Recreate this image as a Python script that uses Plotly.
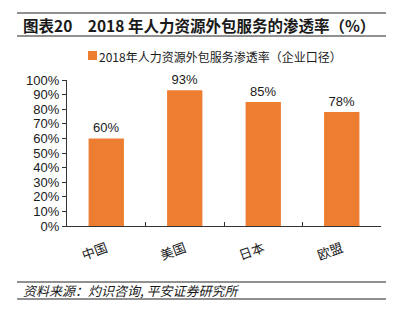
import plotly.graph_objects as go

categories = ["中国", "美国", "日本", "欧盟"]
values = [60, 93, 85, 78]
value_labels = ["60%", "93%", "85%", "78%"]
y_tickvals = [0, 10, 20, 30, 40, 50, 60, 70, 80, 90, 100]
y_ticktext = ["0%", "10%", "20%", "30%", "40%", "50%", "60%", "70%", "80%", "90%", "100%"]
series_name = "2018年人力资源外包服务渗透率（企业口径）"
title_text = "<b>图表20　2018 年人力资源外包服务的渗透率（%）</b>"
source_text = "<i>资料来源：灼识咨询, 平安证券研究所</i>"

W, H = 399, 326
L, R, T, B = 67, 381, 80, 226
BAR_COLOR = "#ED7D31"
FONT = "Liberation Sans, Arial, Noto Sans CJK SC, sans-serif"
CJK = "Noto Sans CJK SC, sans-serif"


def px(x):
    return (x - L) / (R - L)


def py(y):
    return (B - y) / (B - T)


fig = go.Figure()
fig.add_trace(go.Bar(
    x=categories, y=values, name=series_name,
    marker=dict(color=BAR_COLOR, line=dict(width=0)),
    text=value_labels, textposition="outside", cliponaxis=False,
    textfont=dict(family=FONT, size=13, color="#1a1a1a"),
    showlegend=False,
))

fig.update_layout(
    width=W, height=H,
    margin=dict(l=L, r=W - R, t=T, b=H - B),
    paper_bgcolor="white", plot_bgcolor="white",
    bargap=0.55,
    font=dict(family=FONT, color="#1a1a1a"),
    xaxis=dict(
        showline=True, linecolor="#333", linewidth=1.3,
        ticks="inside", tickson="boundaries", ticklen=4, tickcolor="#333",
        tickangle=-20, ticklabelstandoff=9,
        tickfont=dict(family=CJK, size=13, color="#1a1a1a"),
        showgrid=False,
    ),
    yaxis=dict(
        range=[0, 100], tickvals=y_tickvals, ticktext=y_ticktext,
        showline=True, linecolor="#333", linewidth=1.3,
        ticks="outside", ticklen=4, tickcolor="#333",
        tickfont=dict(family=FONT, size=13, color="#1a1a1a"),
        showgrid=False, zeroline=False,
    ),
)

shapes = []
for y in (13, 36, 282, 299):
    shapes.append(dict(type="line", xref="paper", yref="paper",
                       x0=px(17), x1=px(386), y0=py(y), y1=py(y),
                       line=dict(color="#222", width=1.2)))
# legend swatch
shapes.append(dict(type="rect", xref="paper", yref="paper",
                   x0=px(88), x1=px(97), y0=py(51), y1=py(60),
                   fillcolor=BAR_COLOR, line=dict(width=0)))
fig.update_layout(shapes=shapes)

fig.add_annotation(text=title_text, xref="paper", yref="paper",
                   x=px(21), y=py(25), xanchor="left", yanchor="middle",
                   showarrow=False, font=dict(family=CJK, size=15.5, color="#1a1a1a"))
fig.add_annotation(text=series_name, xref="paper", yref="paper",
                   x=px(97), y=py(56), xanchor="left", yanchor="middle",
                   showarrow=False, font=dict(family=CJK, size=12, color="#1a1a1a"))
fig.add_annotation(text=source_text, xref="paper", yref="paper",
                   x=px(21), y=py(290.5), xanchor="left", yanchor="middle",
                   showarrow=False, font=dict(family=CJK, size=13, color="#1a1a1a"))

fig.write_html("out.html")
